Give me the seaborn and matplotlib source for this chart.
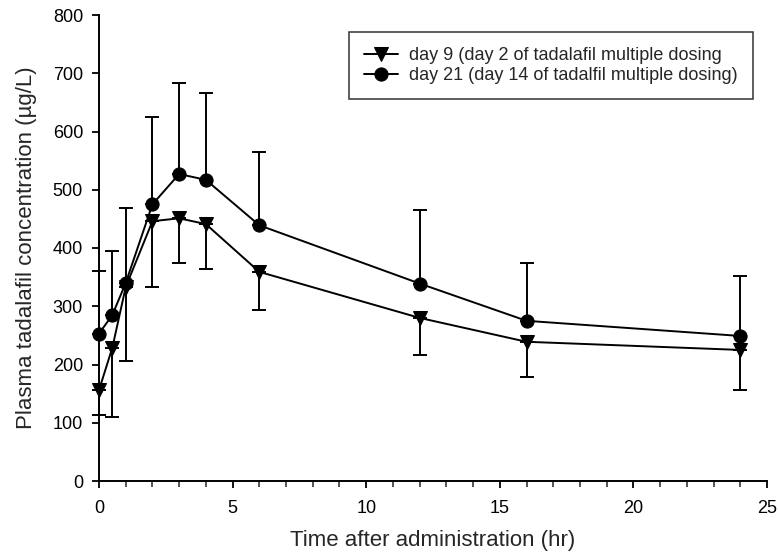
import numpy as np
import pandas as pd
import matplotlib
matplotlib.use("Agg")
import matplotlib.pyplot as plt
from matplotlib.ticker import MultipleLocator
import seaborn as sns

time_hr = [0, 0.5, 1, 2, 3, 4, 6, 12, 16, 24]
day9_mean = [156, 229, 333, 446, 451, 441, 359, 280, 239, 225]
day9_sd = [43, 119, 127, 113, 76, 77, 66, 63, 61, 68]
day21_mean = [253, 285, 340, 475, 527, 517, 439, 339, 275, 249]
day21_sd = [107, 110, 128, 150, 156, 149, 125, 126, 100, 103]
labels = ["day 9 (day 2 of tadalafil multiple dosing",
          "day 21 (day 14 of tadalfil multiple dosing)"]

sns.set_style("ticks")
plt.rcParams['font.family'] = ['Liberation Sans', 'DejaVu Sans']

fig = plt.figure(figsize=(7.78, 5.58), dpi=100)
ax = fig.add_axes([99/778, 1-481/558, (767-99)/778, (481-15)/558])

df9 = pd.DataFrame({"t": time_hr, "c": day9_mean})
df21 = pd.DataFrame({"t": time_hr, "c": day21_mean})

# error bars: day 9 downward, day 21 upward
ax.errorbar(time_hr, day9_mean, yerr=[day9_sd, [0]*len(day9_sd)], fmt='none',
            ecolor='black', elinewidth=1.4, capsize=4.8, capthick=1.4, clip_on=False, zorder=2)
ax.errorbar(time_hr, day21_mean, yerr=[[0]*len(day21_sd), day21_sd], fmt='none',
            ecolor='black', elinewidth=1.4, capsize=4.8, capthick=1.4, clip_on=False, zorder=2)

sns.lineplot(data=df9, x="t", y="c", ax=ax, color='black', marker='v', markersize=10,
             markeredgecolor='black', linewidth=1.4, label=labels[0], clip_on=False, zorder=3)
sns.lineplot(data=df21, x="t", y="c", ax=ax, color='black', marker='o', markersize=9.5,
             markeredgecolor='black', linewidth=1.4, label=labels[1], clip_on=False, zorder=3)

ax.set_xlim(0, 25)
ax.set_ylim(0, 800)
ax.xaxis.set_major_locator(MultipleLocator(5))
ax.xaxis.set_minor_locator(MultipleLocator(1))
ax.yaxis.set_major_locator(MultipleLocator(100))
ax.tick_params(axis='both', which='major', direction='out', length=5, width=1.3,
               labelsize=13, colors='black')
ax.tick_params(axis='x', which='major', pad=9)
ax.tick_params(axis='y', which='major', pad=6.5)
ax.tick_params(axis='x', which='minor', direction='out', length=4, width=1.1)
for s in ['top', 'right']:
    ax.spines[s].set_visible(False)
for s in ['left', 'bottom']:
    ax.spines[s].set_linewidth(1.4)
    ax.spines[s].set_color('black')

ax.set_xlabel("Time after administration (hr)", fontsize=16, labelpad=9)
ax.set_ylabel("Plasma tadalafil concentration (\u00b5g/L)", fontsize=16, labelpad=11)

leg = ax.legend(loc='upper right', bbox_to_anchor=((753-99)/668, (481-32)/466),
                borderaxespad=0, fontsize=13,
                frameon=True, fancybox=False, edgecolor='black', handlelength=1.9,
                borderpad=0.85, labelspacing=0.15, handletextpad=0.6)
leg.get_frame().set_linewidth(1.1)

fig.savefig("out.png", dpi=100)
